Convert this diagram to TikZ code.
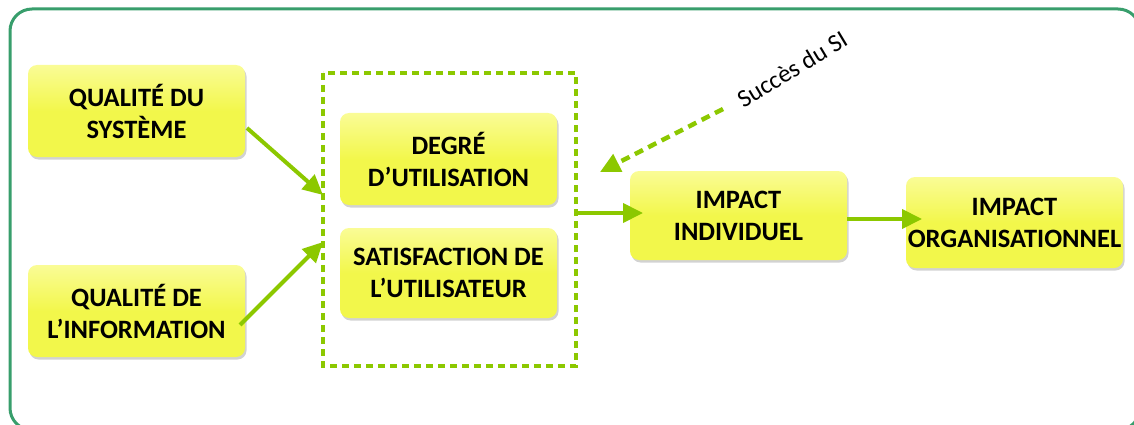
\documentclass[tikz,border=0pt]{standalone}
\usepackage{fontspec}
\setmainfont{Carlito}
\usetikzlibrary{shadows,arrows.meta}
\definecolor{frameg}{RGB}{56,158,108}
\definecolor{lime}{RGB}{140,200,0}
\definecolor{boxy}{RGB}{242,247,75}
\definecolor{boxl}{RGB}{250,252,150}
\tikzset{
  ybox/.style={rounded corners=9pt, top color=boxl, bottom color=boxy, middle color=boxy,
    draw=none, drop shadow={shadow xshift=1.5pt, shadow yshift=-2.5pt, fill=black!35, opacity=0.5},
    font=\fontsize{26.5}{32}\selectfont\bfseries, align=center, inner sep=0pt},
  garrow/.style={draw=lime, line width=4pt, -{Triangle[length=20pt,width=19pt]}},
  gdash/.style={draw=lime, line width=3.5pt, dash pattern=on 7pt off 5pt},
}
\begin{document}
\begin{tikzpicture}[x=1pt,y=-1pt]
\useasboundingbox (0,0) rectangle (1134,425);
\begin{scope}
\clip (0,0) rectangle (1134,425);
\draw[frameg, line width=3pt, rounded corners=22pt] (10,9) rectangle (1140,430);
\end{scope}
% dashed group box
\draw[gdash] (323,73) rectangle (576,366);
\node[ybox, minimum width=217pt, minimum height=92pt] (qs) at (136.5,111) {QUALITÉ DU\\SYSTÈME};
\node[ybox, minimum width=217pt, minimum height=92pt] (qi) at (136.5,311) {QUALITÉ DE\\L’INFORMATION};
\node[ybox, minimum width=217pt, minimum height=92pt] (du) at (448.5,159) {DEGRÉ\\D’UTILISATION};
\node[ybox, minimum width=217pt, minimum height=90pt] (su) at (448.5,273) {SATISFACTION DE\\L’UTILISATEUR};
\node[ybox, minimum width=217pt, minimum height=89pt] (ii) at (738.5,215.5) {IMPACT\\INDIVIDUEL};
\node[ybox, minimum width=217pt, minimum height=91pt] (io) at (1014.5,222.5) {IMPACT\\ORGANISATIONNEL};
\coordinate (g1) at (323,195);
\coordinate (g2) at (323,242);
\coordinate (gr) at (576,213);
\coordinate (ds) at (723,109);
\coordinate (de) at (600,172);
\draw[garrow] (247,128) -- (g1);
\draw[garrow] (240,325) -- (g2);
\draw[garrow] (gr) -- (643,213);
\draw[garrow] (ii.east |- 0,219) -- (922,219);
\draw[lime, line width=4.5pt, dash pattern=on 9pt off 6pt, -{Triangle[length=20pt,width=19pt]}] (ds) -- (de);
\node[font=\fontsize{25}{28}\selectfont, rotate=31, anchor=center, inner sep=0pt] (lab) at (792,69) {Succès du SI};
\end{tikzpicture}
\end{document}
